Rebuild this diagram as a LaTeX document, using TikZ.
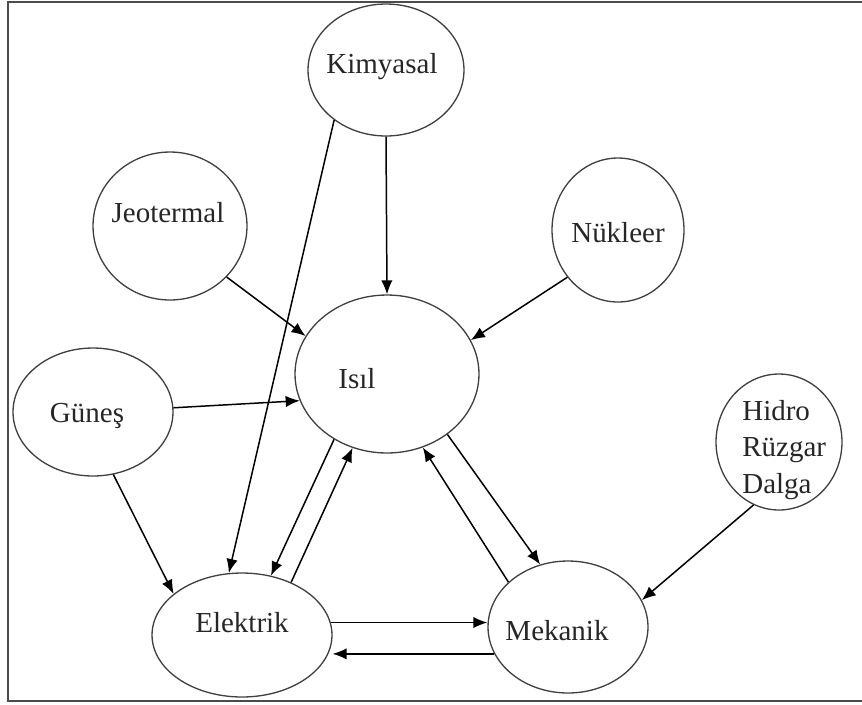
\documentclass[tikz,border=0pt]{standalone}
\usepackage{fontspec}
\setmainfont{Liberation Serif}
\usetikzlibrary{shapes.geometric,arrows.meta}

\begin{document}
\begin{tikzpicture}[x=0.02cm,y=-0.02cm,
blob/.style={ellipse,draw=black!75,line width=0.75pt,inner sep=0pt},
lbl/.style={font=\fontsize{16.5}{20.7}\selectfont,text=black!85,inner sep=0pt,anchor=base},
flow/.style={-{Latex[length=8pt,width=6.5pt]},line width=0.85pt}
]
\useasboundingbox (0,0) rectangle (862,704);
\draw[black!70,line width=1.2pt] (8,2) rectangle (880,701);

\node[blob,minimum width=3.12cm,minimum height=2.64cm] (kim) at (386,70) {};
\node[blob,minimum width=3.08cm,minimum height=2.96cm] (jeo) at (170,226) {};
\node[blob,minimum width=2.64cm,minimum height=2.88cm] (nuk) at (618,230) {};
\node[blob,minimum width=3.68cm,minimum height=3.16cm] (isil) at (387,374) {};
\node[blob,minimum width=3.2cm,minimum height=2.56cm] (gun) at (93,412) {};
\node[blob,minimum width=2.52cm,minimum height=2.72cm] (hid) at (779,442) {};
\node[blob,minimum width=3.6cm,minimum height=2.48cm] (ele) at (242,635) {};
\node[blob,minimum width=3.2cm,minimum height=2.64cm] (mek) at (568,627) {};

\node[lbl] (kim-t) at (382,73) {Kimyasal};
\node[lbl] (jeo-t) at (168,222) {Jeotermal};
\node[lbl] (nuk-t) at (618,242) {Nükleer};
\node[lbl] (isil-t) at (357,388) {Isıl};
\node[lbl] (gun-t) at (87,422) {Güneş};
\node[lbl,anchor=north west,align=left] (hid-t) at (742,400) {Hidro\\Rüzgar\\Dalga};
\node[lbl] (ele-t) at (242,632) {Elektrik};
\node[lbl] (mek-t) at (557,640) {Mekanik};

\draw[flow] (kim.south) -- (isil.north);
\draw[flow] (kim.224) -- (ele.102);
\draw[flow] (jeo.318) -- (isil.155);
\draw[flow] (nuk.223) -- (isil.22);
\draw[flow] (gun.3) -- (isil.197);
\draw[flow] (gun.288) -- (ele.149);
\draw[flow] (isil.231) -- (ele.64);
\draw[flow] (ele.47) -- (isil.245);
\draw[flow] (isil.315) -- (mek.114);
\draw[flow] (mek.143) -- (isil.296);
\draw[flow] (hid.248) -- (mek.20);
\draw[flow] (ele.8) -- (ele.8 -| mek.west);
\draw[flow] (mek.200) -- (mek.200 -| ele.east);
\end{tikzpicture}
\end{document}
